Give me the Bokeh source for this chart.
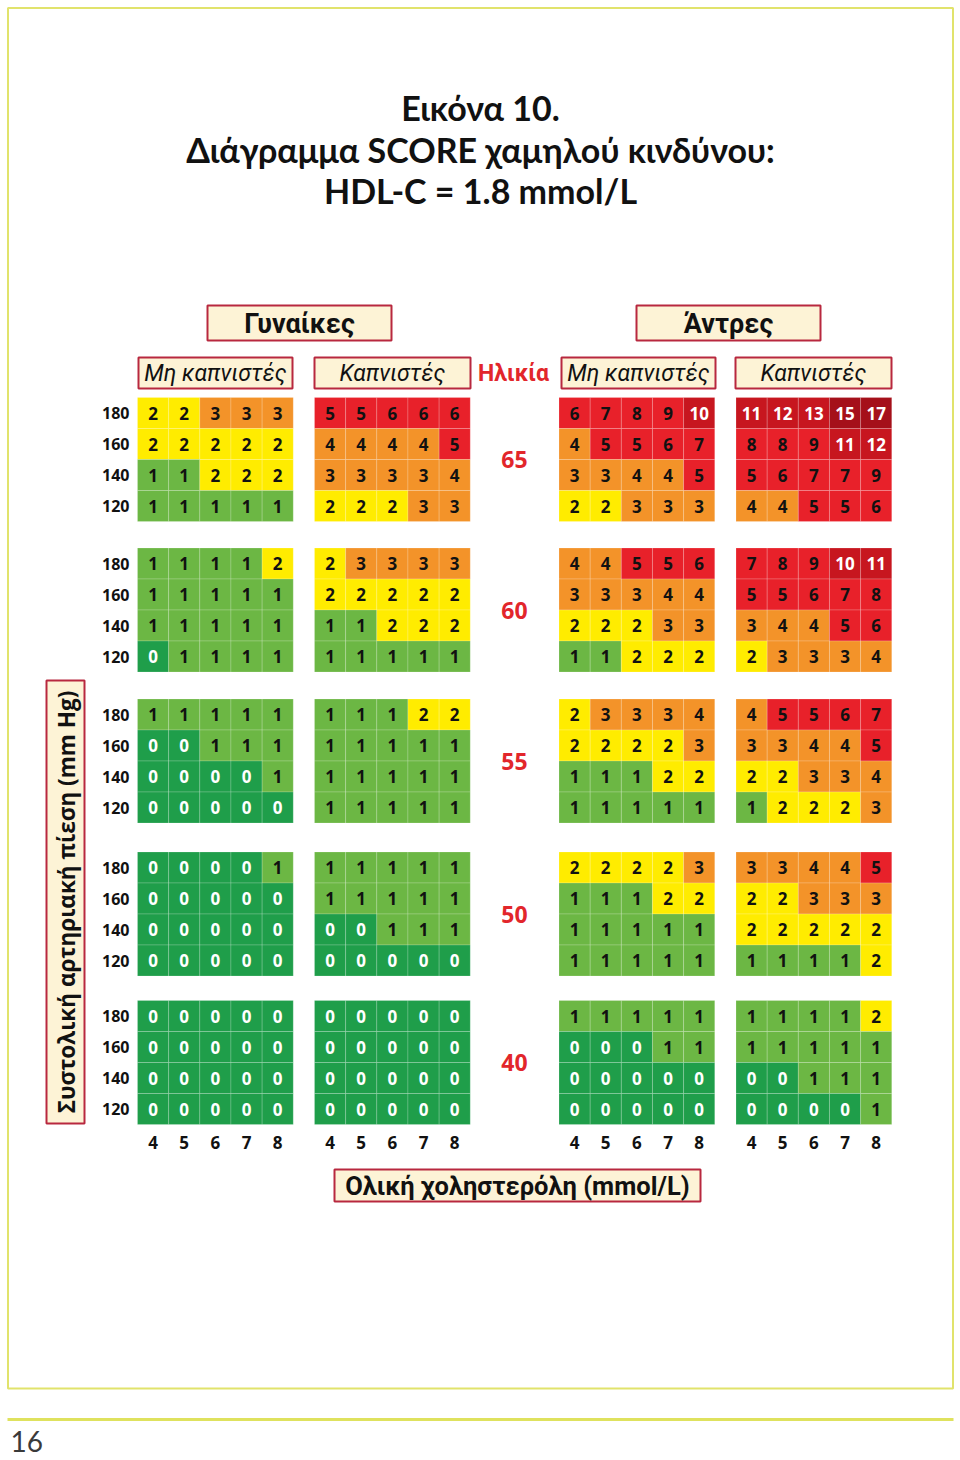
import math
from bokeh.plotting import figure
from bokeh.models import Range1d, ColumnDataSource
from bokeh.core.properties import value
from bokeh.embed import file_html
from bokeh.resources import INLINE

# ---------------- data ----------------
ages = [65, 60, 55, 50, 40]
bp_levels = [180, 160, 140, 120]
chol_levels = [4, 5, 6, 7, 8]
sex_labels = ["Γυναίκες", "Άντρες"]
smoke_labels = ["Μη καπνιστές", "Καπνιστές", "Μη καπνιστές", "Καπνιστές"]

women_nonsmokers = [
    [[2, 2, 3, 3, 3], [2, 2, 2, 2, 2], [1, 1, 2, 2, 2], [1, 1, 1, 1, 1]],
    [[1, 1, 1, 1, 2], [1, 1, 1, 1, 1], [1, 1, 1, 1, 1], [0, 1, 1, 1, 1]],
    [[1, 1, 1, 1, 1], [0, 0, 1, 1, 1], [0, 0, 0, 0, 1], [0, 0, 0, 0, 0]],
    [[0, 0, 0, 0, 1], [0, 0, 0, 0, 0], [0, 0, 0, 0, 0], [0, 0, 0, 0, 0]],
    [[0, 0, 0, 0, 0], [0, 0, 0, 0, 0], [0, 0, 0, 0, 0], [0, 0, 0, 0, 0]],
]
women_smokers = [
    [[5, 5, 6, 6, 6], [4, 4, 4, 4, 5], [3, 3, 3, 3, 4], [2, 2, 2, 3, 3]],
    [[2, 3, 3, 3, 3], [2, 2, 2, 2, 2], [1, 1, 2, 2, 2], [1, 1, 1, 1, 1]],
    [[1, 1, 1, 2, 2], [1, 1, 1, 1, 1], [1, 1, 1, 1, 1], [1, 1, 1, 1, 1]],
    [[1, 1, 1, 1, 1], [1, 1, 1, 1, 1], [0, 0, 1, 1, 1], [0, 0, 0, 0, 0]],
    [[0, 0, 0, 0, 0], [0, 0, 0, 0, 0], [0, 0, 0, 0, 0], [0, 0, 0, 0, 0]],
]
men_nonsmokers = [
    [[6, 7, 8, 9, 10], [4, 5, 5, 6, 7], [3, 3, 4, 4, 5], [2, 2, 3, 3, 3]],
    [[4, 4, 5, 5, 6], [3, 3, 3, 4, 4], [2, 2, 2, 3, 3], [1, 1, 2, 2, 2]],
    [[2, 3, 3, 3, 4], [2, 2, 2, 2, 3], [1, 1, 1, 2, 2], [1, 1, 1, 1, 1]],
    [[2, 2, 2, 2, 3], [1, 1, 1, 2, 2], [1, 1, 1, 1, 1], [1, 1, 1, 1, 1]],
    [[1, 1, 1, 1, 1], [0, 0, 0, 1, 1], [0, 0, 0, 0, 0], [0, 0, 0, 0, 0]],
]
men_smokers = [
    [[11, 12, 13, 15, 17], [8, 8, 9, 11, 12], [5, 6, 7, 7, 9], [4, 4, 5, 5, 6]],
    [[7, 8, 9, 10, 11], [5, 5, 6, 7, 8], [3, 4, 4, 5, 6], [2, 3, 3, 3, 4]],
    [[4, 5, 5, 6, 7], [3, 3, 4, 4, 5], [2, 2, 3, 3, 4], [1, 2, 2, 2, 3]],
    [[3, 3, 4, 4, 5], [2, 2, 3, 3, 3], [2, 2, 2, 2, 2], [1, 1, 1, 1, 2]],
    [[1, 1, 1, 1, 2], [1, 1, 1, 1, 1], [0, 0, 1, 1, 1], [0, 0, 0, 0, 1]],
]
group_tables = [women_nonsmokers, women_smokers, men_nonsmokers, men_smokers]

# ---------------- layout / style ----------------
GROUP_X0 = [137.0, 314.0, 558.5, 735.5]
AGE_Y0 = [397.0, 547.5, 698.5, 851.5, 1000.0]
CW, CH = 31.15, 31.0

def risk_color(v):
    if v == 0:
        return "#1f9e4a"
    if v == 1:
        return "#6cb744"
    if v == 2:
        return "#ffec00"
    if v <= 4:
        return "#f39329"
    if v <= 9:
        return "#e8212a"
    if v <= 14:
        return "#c7161f"
    return "#a5101a"

def text_color(v):
    return "#ffffff" if (v == 0 or v >= 10) else "#111111"

W, H = 960, 1460
p = figure(width=W, height=H, x_range=Range1d(0, W), y_range=Range1d(H, 0),
           output_backend="svg", toolbar_location=None, min_border=0)
p.axis.visible = False
p.xgrid.visible = False
p.ygrid.visible = False
p.outline_line_color = None
p.background_fill_color = "white"

# frame and footer rule
p.quad(left=[7.5], right=[952.5], top=[7.5], bottom=[1388], fill_alpha=0,
       line_color="#e1e36c", line_width=2)
p.segment(x0=[7], y0=[1419], x1=[953], y1=[1419], line_color="#dfe25e", line_width=3)
p.text(x=[10], y=[1441], text=["16"], text_font=value("Lato"), text_font_size="28px",
       text_color="#3a3a3a", text_baseline="middle", text_align="left")

# title
title_lines = ["Εικόνα 10.", "Διάγραμμα SCORE χαμηλού κινδύνου:", "HDL-C = 1.8 mmol/L"]
p.text(x=[480] * 3, y=[107, 149, 190], text=title_lines, text_font=value("Lato"),
       text_font_style="bold", text_font_size="34px", text_color="#111111",
       text_align="center", text_baseline="middle")

# cells
cx, cy, cc, tv, tc = [], [], [], [], []
for g, table in enumerate(group_tables):
    for a, age_rows in enumerate(table):
        for r, row in enumerate(age_rows):
            for c, v in enumerate(row):
                cx.append(GROUP_X0[g] + (c + 0.5) * CW)
                cy.append(AGE_Y0[a] + (r + 0.5) * CH)
                cc.append(risk_color(v))
                tv.append(str(v))
                tc.append(text_color(v))
src = ColumnDataSource(dict(x=cx, y=cy, color=cc, text=tv, tcolor=tc))
p.rect(x="x", y="y", width=CW, height=CH, fill_color="color", line_color="white",
       line_alpha=0.18, line_width=1, source=src)
p.text(x="x", y="y", text="text", text_color="tcolor", text_font=value("Open Sans"),
       text_font_style="bold", text_font_size="17px", text_align="center",
       text_baseline="middle", source=src)

# row labels (systolic BP)
rx, ry, rt = [], [], []
for a in range(len(ages)):
    for r, bp in enumerate(bp_levels):
        rx.append(129)
        ry.append(AGE_Y0[a] + (r + 0.5) * CH)
        rt.append(str(bp))
p.text(x=rx, y=ry, text=rt, text_font=value("Open Sans"), text_font_style="bold",
       text_font_size="16px", text_color="#111111", text_align="right", text_baseline="middle")

# column labels (cholesterol)
kx, ky, kt = [], [], []
for g in range(4):
    for c, ch in enumerate(chol_levels):
        kx.append(GROUP_X0[g] + (c + 0.5) * CW)
        ky.append(AGE_Y0[-1] + 4 * CH + 18)
        kt.append(str(ch))
p.text(x=kx, y=ky, text=kt, text_font=value("Open Sans"), text_font_style="bold",
       text_font_size="17px", text_color="#111111", text_align="center", text_baseline="middle")

# age labels
p.text(x=[514] * len(ages), y=[y0 + 2 * CH for y0 in AGE_Y0], text=[str(a) for a in ages],
       text_font=value("Open Sans"), text_font_style="bold", text_font_size="23px",
       text_color="#e2262b", text_align="center", text_baseline="middle")
p.text(x=[513], y=[372.5], text=["Ηλικία"], text_font=value("Roboto"), text_font_style="bold",
       text_font_size="23px", text_color="#e2262b", text_align="center", text_baseline="middle")

BOX_FILL = "#fdf3d6"
BOX_LINE = "#b8283f"

# sex header boxes
p.quad(left=[207, 636], right=[391, 820], top=[305, 305], bottom=[340, 340],
       fill_color=BOX_FILL, line_color=BOX_LINE, line_width=2)
p.text(x=[299, 728], y=[323, 323], text=sex_labels, text_font=value("Roboto"),
       text_font_style="bold", text_font_size="27px", text_color="#111111",
       text_align="center", text_baseline="middle")

# smoking sub-header boxes
sub_l = [138, 314, 561, 735]
sub_r = [292, 470, 715, 891]
p.quad(left=sub_l, right=sub_r, top=[357] * 4, bottom=[388] * 4,
       fill_color=BOX_FILL, line_color=BOX_LINE, line_width=2)
p.text(x=[(l + r) / 2 for l, r in zip(sub_l, sub_r)], y=[373] * 4, text=smoke_labels,
       text_font=value("Roboto"), text_font_style="italic", text_font_size="23px",
       text_color="#111111", text_align="center", text_baseline="middle")

# y-axis label box
p.quad(left=[46], right=[84], top=[680], bottom=[1123], fill_color=BOX_FILL,
       line_color=BOX_LINE, line_width=2)
p.text(x=[66], y=[901.5], text=["Συστολική αρτηριακή πίεση (mm Hg)"], angle=math.pi / 2,
       text_font=value("Open Sans"), text_font_style="bold", text_font_size="22.5px",
       text_color="#111111", text_align="center", text_baseline="middle")

# x-axis label box
p.quad(left=[334], right=[700], top=[1169], bottom=[1201], fill_color=BOX_FILL,
       line_color=BOX_LINE, line_width=2)
p.text(x=[517], y=[1185.5], text=["Ολική χοληστερόλη (mmol/L)"], text_font=value("Roboto"),
       text_font_style="bold", text_font_size="25.5px", text_color="#111111",
       text_align="center", text_baseline="middle")

open("out.html", "w").write(file_html(p, INLINE))
